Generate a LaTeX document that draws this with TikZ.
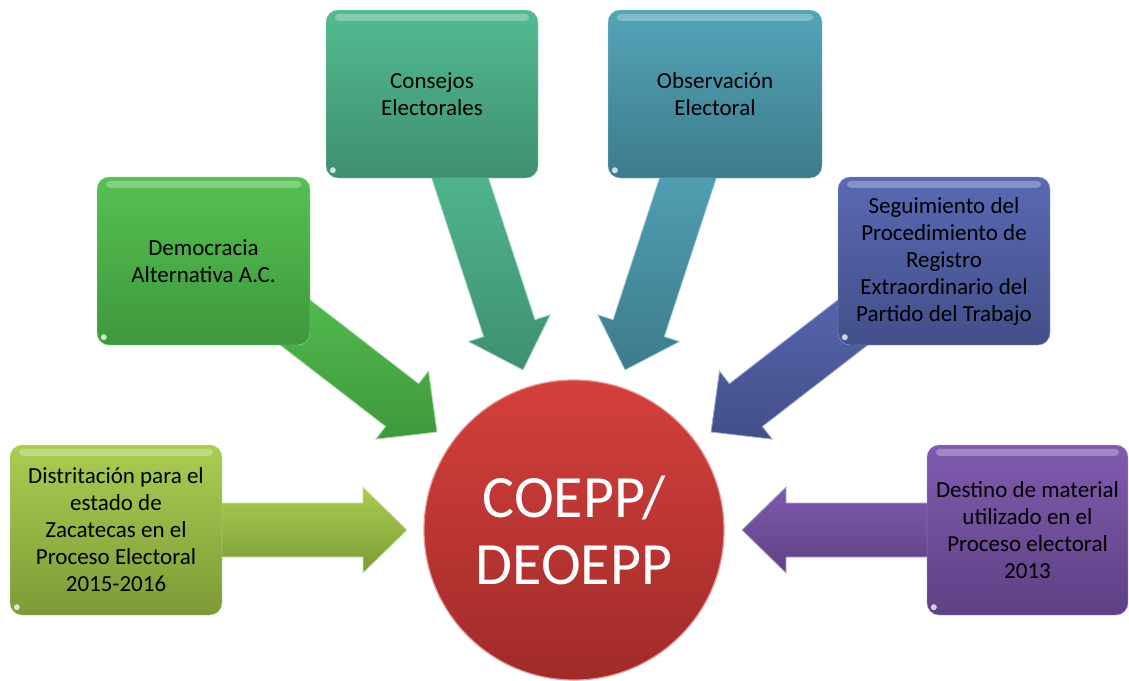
\documentclass[tikz,border=0pt]{standalone}
\usepackage{fontspec}
\setmainfont{Carlito}
\usetikzlibrary{calc,backgrounds}
\definecolor{c1t}{HTML}{AACD52}\definecolor{c1b}{HTML}{7D9A37}
\definecolor{c2t}{HTML}{56C052}\definecolor{c2b}{HTML}{3F983C}
\definecolor{c3t}{HTML}{53BA90}\definecolor{c3b}{HTML}{3E9070}
\definecolor{c4t}{HTML}{54A4B9}\definecolor{c4b}{HTML}{3D7B8B}
\definecolor{c5t}{HTML}{5969B3}\definecolor{c5b}{HTML}{434F89}
\definecolor{c6t}{HTML}{7F5BAE}\definecolor{c6b}{HTML}{5E4184}
\definecolor{rt}{HTML}{D4403C}\definecolor{rb}{HTML}{A02B29}
\newcommand{\blockarr}[3]{%
  \coordinate (hb) at ($(#2)!44pt!(#1)$);
  \path[#3] ($(#1)!27pt!90:(#2)$) -- ($(hb)!27pt!90:(#2)$) -- ($(hb)!43pt!90:(#2)$) -- (#2)
    -- ($(hb)!43pt!-90:(#2)$) -- ($(hb)!27pt!-90:(#2)$) -- ($(#1)!27pt!-90:(#2)$) -- cycle;
}
\newcommand{\gloss}[1]{%
  \fill[white,opacity=0.28,rounded corners=4pt] ($(#1.north west)+(9,4)$) rectangle ($(#1.north east)+(-9,11)$);
  \fill[white,opacity=0.75] ($(#1.south west)+(7,-8)$) circle (3pt);
}
\tikzset{
  box/.style={rounded corners=12pt, minimum width=212pt, minimum height=168pt, align=center,
    font=\fontsize{23}{27}\selectfont, text=black, inner sep=0pt},
  arr/.style={line width=0.8pt, line join=miter}
}
\begin{document}
\begin{tikzpicture}[x=1pt,y=-1pt]
\useasboundingbox (0,0) rectangle (1129,680);
% boxes
\node[box, top color=c1t, bottom color=c1b, draw=c1t!60!white, minimum height=170pt] (b1) at (116,530)
  {Distritación para el\\estado de\\Zacatecas en el\\Proceso Electoral\\2015-2016};
\node[box, top color=c2t, bottom color=c2b, draw=c2t!60!white, minimum width=213pt] (b2) at (203.5,261)
  {Democracia\\Alternativa A.C.};
\node[box, top color=c3t, bottom color=c3b, draw=c3t!60!white] (b3) at (432,94)
  {Consejos\\Electorales};
\node[box, top color=c4t, bottom color=c4b, draw=c4t!60!white, minimum width=214pt] (b4) at (715,94)
  {Observación\\Electoral};
\node[box, top color=c5t, bottom color=c5b, draw=c5t!60!white] (b5) at (944,261)
  {Seguimiento del\\Procedimiento de\\Registro\\Extraordinario del\\Partido del Trabajo};
\node[box, top color=c6t, bottom color=c6b, draw=c6t!60!white, minimum width=201pt, minimum height=170pt] (b6) at (1027.5,530)
  {Destino de material\\utilizado en el\\Proceso electoral\\2013};
\foreach \b in {b1,b2,b3,b4,b5,b6} {\gloss{\b}}
% centre
\node[circle, minimum size=300pt, inner sep=0pt, top color=rt, bottom color=rb, draw=rt!55!white, line width=1.2pt,
  font=\fontsize{60}{67}\selectfont, text=white, align=center] (c) at (574,530) {COEPP/\\DEOEPP};
% arrow ends
\coordinate (t1) at (407,530);
\coordinate (t2) at (437,432);
\coordinate (t3) at (523,370);
\coordinate (t4) at (625,370);
\coordinate (t5) at (711,432);
\coordinate (t6) at (742,530);
\coordinate (s1) at ($(b1.east)+(-10,0)$);
\coordinate (s2) at ($(b2.center)+(44.5,25)$);
\coordinate (s3) at ($(b3.south)+(19,-28)$);
\coordinate (s4) at ($(b4.south)+(-18,-28)$);
\coordinate (s5) at ($(b5.center)+(-44,25)$);
\coordinate (s6) at ($(b6.west)+(10,0)$);
\begin{pgfonlayer}{background}
\blockarr{s1}{t1}{arr, top color=c1t, bottom color=c1b, draw=c1t!55!white}
\blockarr{s2}{t2}{arr, top color=c2t, bottom color=c2b, draw=c2t!55!white}
\blockarr{s3}{t3}{arr, top color=c3t, bottom color=c3b, draw=c3t!55!white}
\blockarr{s4}{t4}{arr, top color=c4t, bottom color=c4b, draw=c4t!55!white}
\blockarr{s5}{t5}{arr, top color=c5t, bottom color=c5b, draw=c5t!55!white}
\blockarr{s6}{t6}{arr, top color=c6t, bottom color=c6b, draw=c6t!55!white}
\end{pgfonlayer}
\end{tikzpicture}
\end{document}
